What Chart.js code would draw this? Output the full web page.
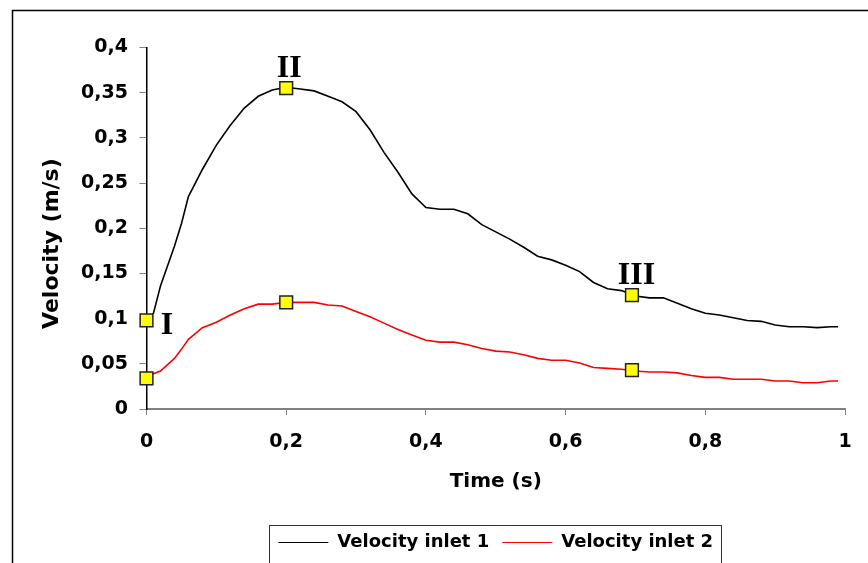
<!DOCTYPE html>
<html>
<head>
<meta charset="utf-8">
<script src="https://cdn.jsdelivr.net/npm/chart.js@4.4.1/dist/chart.umd.min.js"></script>
<style>
  html, body { margin: 0; padding: 0; background: #fff; }
</style>
</head>
<body>
<canvas id="velocityChart" width="868" height="563"></canvas>
<script>
// time axis (s)
const times = [0, 0.01, 0.02, 0.04, 0.05, 0.06, 0.08, 0.10, 0.12, 0.14, 0.16, 0.18, 0.20, 0.22, 0.24,
  0.26, 0.28, 0.30, 0.32, 0.34, 0.36, 0.38, 0.40, 0.42, 0.44, 0.46, 0.48, 0.50, 0.52, 0.54,
  0.56, 0.58, 0.60, 0.62, 0.64, 0.66, 0.68, 0.70, 0.72, 0.74, 0.76, 0.78, 0.80, 0.82, 0.84,
  0.86, 0.88, 0.90, 0.92, 0.94, 0.96, 0.98, 0.99];
// velocity inlet 1 (m/s)
const inlet1 = [0.098, 0.106, 0.136, 0.180, 0.205, 0.235, 0.265, 0.292, 0.314, 0.333, 0.346, 0.353, 0.356, 0.354, 0.352,
  0.346, 0.340, 0.329, 0.309, 0.284, 0.262, 0.238, 0.223, 0.221, 0.221, 0.216, 0.204, 0.196, 0.188, 0.179,
  0.169, 0.165, 0.159, 0.152, 0.140, 0.133, 0.131, 0.125, 0.123, 0.123, 0.117, 0.111, 0.106, 0.104, 0.101,
  0.098, 0.097, 0.093, 0.091, 0.091, 0.090, 0.091, 0.091];
// velocity inlet 2 (m/s)
const inlet2 = [0.034, 0.039, 0.042, 0.056, 0.066, 0.077, 0.090, 0.096, 0.104, 0.111, 0.116, 0.116, 0.118, 0.118, 0.118,
  0.115, 0.114, 0.108, 0.102, 0.095, 0.088, 0.082, 0.076, 0.074, 0.074, 0.071, 0.067, 0.064, 0.063, 0.060,
  0.056, 0.054, 0.054, 0.051, 0.046, 0.045, 0.044, 0.042, 0.041, 0.041, 0.040, 0.037, 0.035, 0.035, 0.033,
  0.033, 0.033, 0.031, 0.031, 0.029, 0.029, 0.031, 0.031];

// highlighted instants I, II, III
const markTimes = [0, 0.2, 0.695];
const mark1 = [0.098, 0.355, 0.126];
const mark2 = [0.034, 0.118, 0.043];
const markNames = ['I', 'II', 'III'];

const seriesNames = ['Velocity inlet 1', 'Velocity inlet 2'];

function pts(xs, ys) { return xs.map((x, i) => ({ x: x, y: ys[i] })); }
function comma(v) { return (Math.round(v * 100) / 100).toString().replace('.', ','); }

Chart.defaults.font.family = "'DejaVu Sans', sans-serif";
Chart.defaults.font.weight = 'bold';
Chart.defaults.color = '#000';

// frame, legend box, roman numerals
const decor = {
  id: 'decor',
  afterLayout(chart) {
    const lg = chart.legend, ca = chart.chartArea;
    const dx = (ca.left + ca.right) / 2 - (lg.left + lg.right) / 2;
    lg.left += dx; lg.right += dx;
    lg.top += 10.5; lg.bottom += 10.5;
  },
  beforeDraw(chart) {
    const ctx = chart.ctx;
    ctx.save();
    ctx.strokeStyle = '#000';
    ctx.lineWidth = 1.5;
    ctx.beginPath();
    ctx.moveTo(12.5, chart.height);
    ctx.lineTo(12.5, 10.5);
    ctx.lineTo(chart.width, 10.5);
    ctx.stroke();
    ctx.restore();
  },
  afterDraw(chart) {
    const ctx = chart.ctx;
    const hb = chart.legend.legendHitBoxes;
    if (hb && hb.length) {
      const first = hb[0], last = hb[hb.length - 1];
      const cy = first.top + first.height / 2;
      ctx.save();
      ctx.strokeStyle = '#333';
      ctx.lineWidth = 1;
      ctx.strokeRect(Math.round(first.left - 9) + 0.5, Math.round(cy - 18) + 0.5,
        Math.round(last.left + last.width - first.left + 17), 38);
      ctx.restore();
    }
    const meta = chart.getDatasetMeta(0);
    const offs = [[20.5, 14], [3, -11], [4.5, -11]];
    ctx.save();
    ctx.font = "bold 32px 'Liberation Serif', serif";
    ctx.fillStyle = '#000';
    ctx.textAlign = 'center';
    ctx.textBaseline = 'alphabetic';
    meta.data.forEach((p, i) => {
      ctx.fillText(markNames[i], p.x + offs[i][0], p.y + offs[i][1]);
    });
    ctx.restore();
  }
};

const markerStyle = {
  showLine: false,
  clip: false,
  pointStyle: 'rect',
  pointRadius: 9,
  pointHoverRadius: 9,
  pointBackgroundColor: '#ffff00',
  pointBorderColor: '#222',
  pointBorderWidth: 1.5
};

new Chart(document.getElementById('velocityChart'), {
  type: 'line',
  data: {
    datasets: [
      Object.assign({ label: 'marks1', data: pts(markTimes, mark1) }, markerStyle),
      Object.assign({ label: 'marks2', data: pts(markTimes, mark2) }, markerStyle),
      {
        label: seriesNames[0], data: pts(times, inlet1),
        borderColor: '#000', borderWidth: 1.6, pointRadius: 0,
        pointBorderColor: '#000', pointBorderWidth: 1.2, tension: 0
      },
      {
        label: seriesNames[1], data: pts(times, inlet2),
        borderColor: '#ff0000', borderWidth: 1.6, pointRadius: 0,
        pointBorderColor: '#ff0000', pointBorderWidth: 1.2, tension: 0
      }
    ]
  },
  options: {
    responsive: false,
    animation: false,
    layout: { padding: { left: 12, right: 23, top: 47.5, bottom: 12 } },
    plugins: {
      tooltip: { enabled: false },
      legend: {
        position: 'bottom',
        labels: {
          usePointStyle: true,
          pointStyle: 'line',
          pointStyleWidth: 50,
          padding: 13,
          color: '#000',
          font: { size: 18, weight: 'bold' },
          filter: item => item.datasetIndex >= 2
        }
      }
    },
    scales: {
      x: {
        type: 'linear', min: 0, max: 1,
        ticks: { stepSize: 0.2, padding: 15.6, font: { size: 19 }, callback: comma, maxRotation: 0 },
        grid: { drawOnChartArea: false, tickLength: 6, color: '#808080' },
        border: { color: '#808080', width: 2 },
        title: { display: true, text: 'Time (s)', font: { size: 20, weight: 'bold' }, padding: { top: 0, bottom: 16 } },
        afterFit(s) { s.height = 101; }
      },
      y: {
        min: 0, max: 0.4,
        ticks: { stepSize: 0.05, padding: 11.5, font: { size: 19 }, callback: comma },
        grid: { drawOnChartArea: false, tickLength: 7, color: '#808080' },
        border: { color: '#000', width: 1.5 },
        title: { display: true, text: 'Velocity (m/s)    ', font: { size: 22, weight: 'bold' }, padding: { top: 27, bottom: 0 } },
        afterFit(s) { s.width = 134.5; }
      }
    }
  },
  plugins: [decor]
});
</script>
</body>
</html>
